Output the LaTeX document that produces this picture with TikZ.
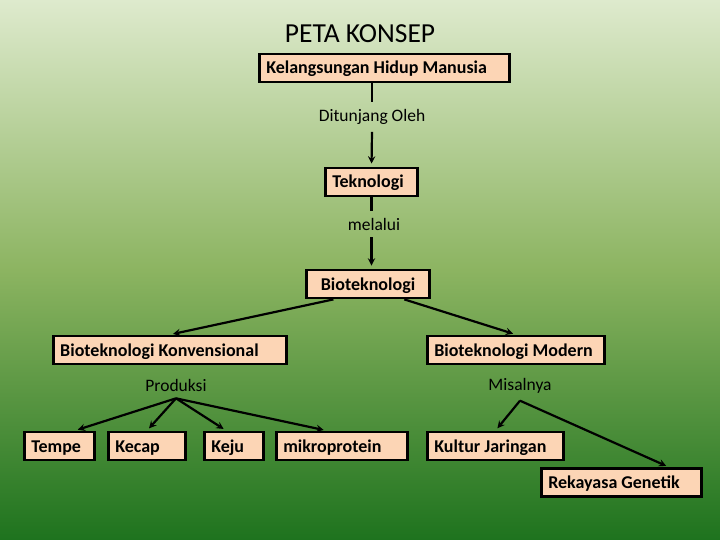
\documentclass[tikz,border=0pt]{standalone}
\usepackage{fontspec}
\setmainfont{Carlito}
\usetikzlibrary{arrows}
\definecolor{persik}{HTML}{FCD5B5}
\definecolor{hijauatas}{HTML}{DEEACD}
\definecolor{hijautengah}{HTML}{8CB461}
\definecolor{hijaubawah}{HTML}{1E731E}
\pgfdeclareverticalshading{latar}{100bp}{color(0bp)=(hijaubawah); color(25bp)=(hijaubawah); color(50bp)=(hijautengah); color(75bp)=(hijauatas); color(100bp)=(hijauatas)}
\tikzset{
	>=stealth, % ujung panah runcing
	x=1bp, y=-1bp, % satu satuan = satu piksel
	kotak/.style={draw, line width=2.8bp, fill=persik, font=\bfseries\fontsize{18bp}{20bp}\selectfont, minimum height=28bp, inner xsep=7bp, text height=14bp, text depth=2bp, text width=#1, align=left, execute at begin node={\spaceskip=0pt\xspaceskip=0pt}}, % kotak konsep
	kata/.style={font=\fontsize{17.5bp}{20bp}\selectfont, inner ysep=7bp}, % kata penghubung
	panah/.style={->, shorten >=3bp} % garis berpanah
}

\begin{document}
\begin{tikzpicture}
	\shade[shading=latar] (0,0) rectangle (720,540);
	\useasboundingbox (0,0) rectangle (720,540);
	\node[font=\fontsize{27.5bp}{32bp}\selectfont] (judul) at (360,34) {PETA KONSEP};
	\node[kotak=236.5bp] (hidup) at (384.5,68) {Kelangsungan Hidup Manusia};
	\node[kata] (ditunjang) at (372,117) {Ditunjang Oleh};
	\node[kotak=78.5bp] (tek) at (371.5,182) {Teknologi};
	\node[kata] (melalui) at (374,224) {melalui};
	\node[kotak=109.5bp, align=center] (bio) at (368,284) {Bioteknologi};
	\node[kotak=219.5bp] (konv) at (170,350) {Bioteknologi Konvensional};
	\node[kotak=163.5bp] (modern) at (516,350) {Bioteknologi Modern};
	\node[kata] (produksi) at (176,385) {Produksi};
	\node[kata] (misalnya) at (520,386) {Misalnya};
	\node[kotak=56.5bp] (tempe) at (59.5,446) {Tempe};
	\node[kotak=63.5bp] (kecap) at (147,446) {Kecap};
	\node[kotak=45.5bp] (keju) at (234,446) {Keju};
	\node[kotak=117.5bp] (mikro) at (342,446) {mikroprotein};
	\node[kotak=122.5bp] (kultur) at (495.5,446) {Kultur Jaringan};
	\node[kotak=146.5bp] (rekayasa) at (621.5,482.5) {Rekayasa Genetik};
	\draw[line width=2.2bp]
		(ditunjang |- hidup.south) edge (ditunjang.north)
		(ditunjang.south) edge[panah] (tek.north)
		(tek.south) edge (tek.south |- melalui.north)
		(tek.south |- melalui.south) edge[panah] (tek.south |- bio.north)
		(bio.204) edge[panah] (konv.north)
		(bio.337) edge[panah] (modern.north)
		(produksi.south) edge[panah] (tempe.45)
		(produksi.south) edge[panah] (kecap.north)
		(produksi.south) edge[panah] (keju.117)
		(produksi.south) edge[panah] (mikro.135)
		(misalnya.south) edge[panah] (kultur.north)
		(misalnya.south) edge[panah] (rekayasa.18);
\end{tikzpicture}
\end{document}
